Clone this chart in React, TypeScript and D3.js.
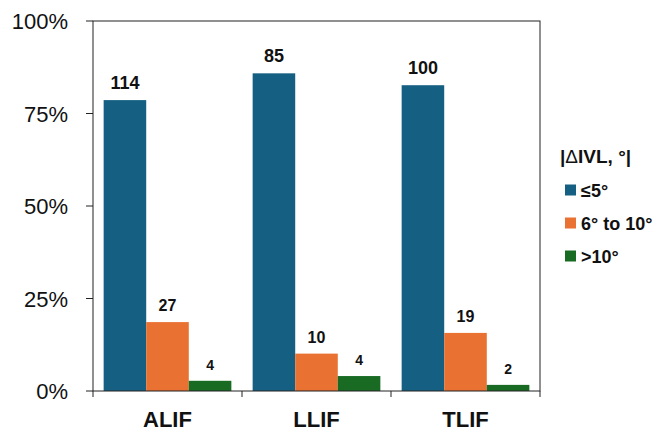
import React from "react";
import * as d3 from "d3";

const categories = ["ALIF", "LLIF", "TLIF"];
const series = ["≤5°", "6° to 10°", ">10°"];
const counts = [
  [114, 27, 4],
  [85, 10, 4],
  [100, 19, 2],
];
const yTicks = [0, 25, 50, 75, 100];
const colors = ["#156082", "#E97132", "#196B24"];
const labelSizes = [18, 16, 14];

const W = 657;
const H = 433;
const margin = { left: 93, right: 117, top: 21, bottom: 42 };
const font = "'Liberation Sans', Arial, sans-serif";

const App = () => {
  const x0 = d3
    .scaleBand()
    .domain(categories)
    .range([margin.left, W - margin.right])
    .paddingInner(0)
    .paddingOuter(0);

  const x1 = d3
    .scaleBand()
    .domain(series)
    .range([0, x0.bandwidth()])
    .paddingInner(0)
    .paddingOuter(0.25);

  const y = d3
    .scaleLinear()
    .domain([0, 100])
    .range([H - margin.bottom, margin.top]);

  const rows = categories.map((c, i) => {
    const total = d3.sum(counts[i]);
    return series.map((s, j) => ({
      cat: c,
      s,
      j,
      n: counts[i][j],
      pct: (counts[i][j] / total) * 100,
    }));
  });

  const boundaries = [...categories.map((c) => x0(c)), W - margin.right];

  return (
    <svg
      width={W}
      height={H}
      style={{ position: "absolute", left: 0, top: 0, display: "block" }}
      fontFamily={font}
    >
      <rect x={0} y={0} width={W} height={H} fill="#fff" />

      {/* bars */}
      {rows.flat().map((d) => (
        <rect
          key={d.cat + d.s}
          x={x0(d.cat) + x1(d.s)}
          y={y(d.pct)}
          width={x1.bandwidth()}
          height={y(0) - y(d.pct)}
          fill={colors[d.j]}
        />
      ))}

      {/* value labels */}
      {rows.flat().map((d) => (
        <text
          key={"t" + d.cat + d.s}
          x={x0(d.cat) + x1(d.s) + x1.bandwidth() / 2}
          y={y(d.pct) - 11}
          textAnchor="middle"
          fontWeight="bold"
          fontSize={labelSizes[d.j]}
          fill="#111"
        >
          {d.n}
        </text>
      ))}

      {/* frame */}
      <rect
        x={margin.left}
        y={margin.top}
        width={W - margin.left - margin.right}
        height={y(0) - margin.top}
        fill="none"
        stroke="#222"
        strokeWidth={1}
      />

      {/* y ticks */}
      {yTicks.map((t) => (
        <g key={t}>
          <line
            x1={margin.left - 7}
            x2={margin.left}
            y1={y(t)}
            y2={y(t)}
            stroke="#222"
          />
          <text
            x={68}
            y={y(t) + 8}
            textAnchor="end"
            fontSize={22}
            fill="#111"
          >
            {t}%
          </text>
        </g>
      ))}

      {/* x ticks */}
      {boundaries.map((b, i) => (
        <line key={i} x1={b} x2={b} y1={y(0)} y2={y(0) + 6} stroke="#222" />
      ))}
      {categories.map((c) => (
        <text
          key={c}
          x={x0(c) + x0.bandwidth() / 2}
          y={427}
          textAnchor="middle"
          fontWeight="bold"
          fontSize={22}
          fill="#111"
        >
          {c}
        </text>
      ))}

      {/* legend */}
      <text x={560} y={163} fontWeight="bold" fontSize={19} fill="#111">
        |<tspan fontWeight="normal">Δ</tspan>IVL, °|
      </text>
      {series.map((s, j) => (
        <g key={s} transform={`translate(565, ${190 + j * 33})`}>
          <rect x={0} y={-5.5} width={11} height={11} fill={colors[j]} />
          <text x={16} y={6.5} fontWeight="bold" fontSize={18} fill="#111">
            {s}
          </text>
        </g>
      ))}
    </svg>
  );
};

export default App;
